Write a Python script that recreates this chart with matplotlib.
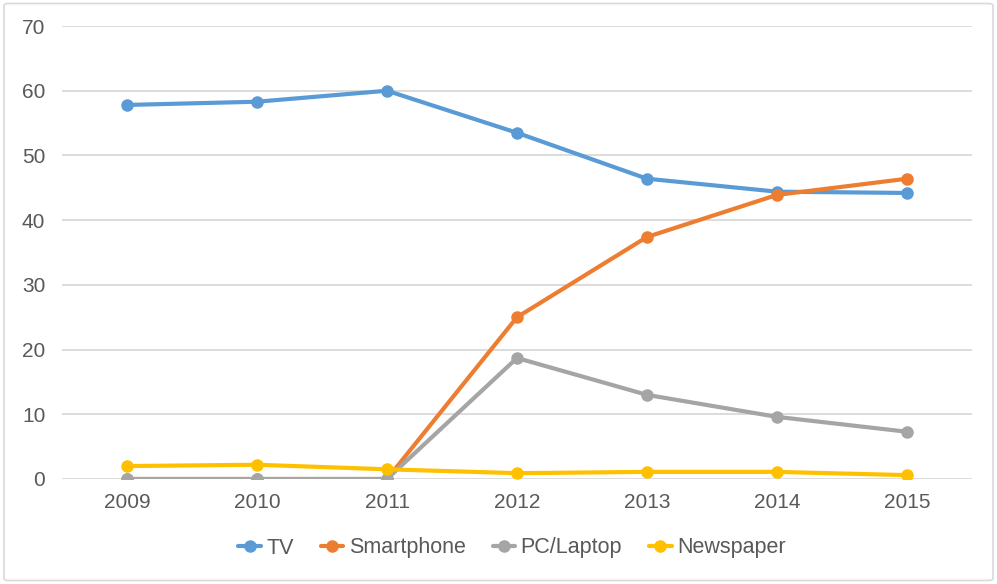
import matplotlib
matplotlib.use("Agg")
import matplotlib.pyplot as plt
from matplotlib.patches import FancyBboxPatch

# Share of media usage by year
years = ["2009", "2010", "2011", "2012", "2013", "2014", "2015"]
tv = [57.8, 58.3, 60.0, 53.5, 46.4, 44.4, 44.2]
smartphone = [0, 0, 0, 25.0, 37.4, 43.9, 46.4]
pc_laptop = [0, 0, 0, 18.7, 13.0, 9.6, 7.3]
newspaper = [2.0, 2.2, 1.5, 0.9, 1.1, 1.1, 0.6]

series = [
    ("TV", tv, "#5B9BD5"),
    ("Smartphone", smartphone, "#ED7D31"),
    ("PC/Laptop", pc_laptop, "#A5A5A5"),
    ("Newspaper", newspaper, "#FFC000"),
]

plt.rcParams["font.family"] = ["Liberation Sans", "DejaVu Sans"]

fig = plt.figure(figsize=(9.97, 5.84), dpi=100)
ax = fig.add_axes([62 / 997, 105 / 584, 910 / 997, 453 / 584])

# light frame around the whole chart
fig.patches.append(FancyBboxPatch((0.004, 0.006), 0.992, 0.988,
                                  boxstyle="round,pad=0,rounding_size=0.004",
                                  transform=fig.transFigure, fill=False,
                                  edgecolor="#D9D9D9", linewidth=1.2))

x = list(range(len(years)))
for name, vals, col in series:
    ax.plot(x, vals, color=col, linewidth=3, marker="o", markersize=8,
            label=name, solid_capstyle="round", zorder=3)

ax.set_xlim(-0.5, len(years) - 0.5)
ax.set_ylim(0, 70)
ax.set_yticks(range(0, 71, 10))
ax.set_xticks(x)
ax.set_xticklabels(years)
ax.grid(axis="y", color="#D9D9D9", linewidth=1.3)
ax.set_axisbelow(True)
for sp in ax.spines.values():
    sp.set_visible(False)
ax.tick_params(length=0, labelsize=15, labelcolor="#595959")
ax.tick_params(axis="x", pad=10)
ax.tick_params(axis="y", pad=12)

leg = fig.legend(loc="center", bbox_to_anchor=(512 / 997, 1 - 548 / 584),
                 ncol=4, frameon=False, fontsize=15.5, handlelength=1.05,
                 columnspacing=1.25, handletextpad=0.25)
for t in leg.get_texts():
    t.set_color("#595959")

fig.savefig("out.png", dpi=100)
